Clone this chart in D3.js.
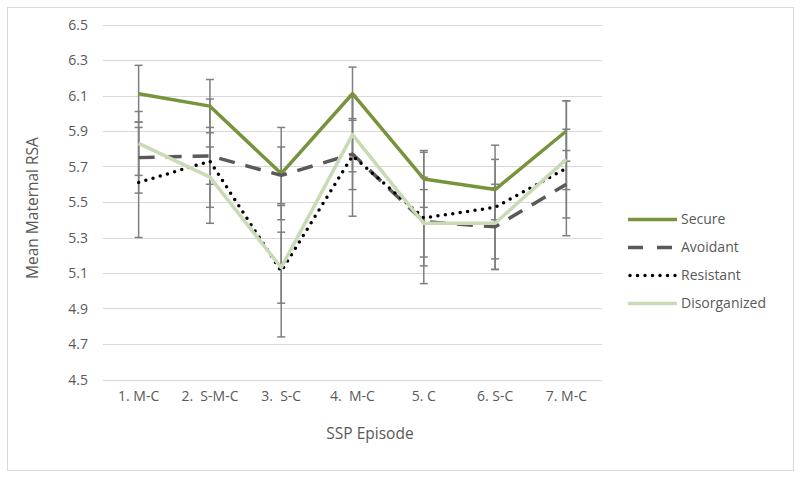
<!DOCTYPE html>
<html>
<head>
<meta charset="utf-8">
<script src="https://cdn.jsdelivr.net/npm/d3@7/dist/d3.min.js"></script>
<style>
  html, body { margin: 0; padding: 0; background: #fff; }
  text { font-family: "Open Sans", "Noto Sans", sans-serif; fill: #595959; white-space: pre; }
</style>
</head>
<body>
<svg id="chart" width="800" height="478"></svg>
<script>
const categories = ["1. M-C", "2.  S-M-C", "3.  S-C", "4.  M-C", "5. C", "6. S-C", "7. M-C"];
const yTicks = [4.5, 4.7, 4.9, 5.1, 5.3, 5.5, 5.7, 5.9, 6.1, 6.3, 6.5];
const seriesNames = ["Secure", "Avoidant", "Resistant", "Disorganized"];

const secure          = [6.11, 6.04, 5.66, 6.11, 5.63, 5.57, 5.90];
const secureErr       = [0.16, 0.15, 0.26, 0.15, 0.16, 0.17, 0.17];
const avoidant        = [5.75, 5.76, 5.65, 5.77, 5.39, 5.36, 5.60];
const avoidantErr     = [0.20, 0.16, 0.16, 0.20, 0.25, 0.24, 0.19];
const resistant       = [5.61, 5.73, 5.11, 5.76, 5.41, 5.47, 5.69];
const resistantErr    = [0.31, 0.35, 0.37, 0.34, 0.37, 0.35, 0.38];
const disorganized    = [5.83, 5.64, 5.13, 5.88, 5.38, 5.38, 5.74];
const disorganizedErr = [0.18, 0.17, 0.20, 0.21, 0.19, 0.20, 0.17];

const styles = [
  { color: "#77933c", dash: null, width: 3.5, cap: "butt" },
  { color: "#595959", dash: "16,11", width: 3.5, cap: "butt" },
  { color: "#000000", dash: "0,7.5", width: 3.5, cap: "round" },
  { color: "#c9dab6", dash: null, width: 3.5, cap: "butt" }
];
const values = [secure, avoidant, resistant, disorganized];
const errs = [secureErr, avoidantErr, resistantErr, disorganizedErr];

const svg = d3.select("#chart");

// outer border
svg.append("rect").attr("x", 7.5).attr("y", 7.5).attr("width", 786).attr("height", 463)
  .attr("fill", "#fff").attr("stroke", "#d9d9d9").attr("stroke-width", 1);

const x = d3.scaleBand().domain(categories).range([103, 602]);
const cx = c => x(c) + x.bandwidth() / 2;
const y = d3.scaleLinear().domain([4.5, 6.5]).range([379.5, 24.5]);

// gridlines
svg.append("g").selectAll("line").data(yTicks).join("line")
  .attr("x1", 103).attr("x2", 602)
  .attr("y1", d => Math.round(y(d)) + 0.5).attr("y2", d => Math.round(y(d)) + 0.5)
  .attr("stroke", "#d9d9d9").attr("stroke-width", 1);

// y axis labels
const yAxis = d3.axisLeft(y).tickValues(yTicks).tickFormat(d3.format(".1f")).tickSize(0).tickPadding(0);
const gy = svg.append("g").attr("transform", "translate(88,0)").call(yAxis);
gy.select(".domain").remove();
gy.selectAll("text").style("font-size", "14px").attr("fill", "#595959").attr("dy", "0.35em");

// x axis labels
const xAxis = d3.axisBottom(x).tickSize(0).tickPadding(0);
const gx = svg.append("g").attr("transform", "translate(0,391)").call(xAxis);
gx.select(".domain").remove();
gx.selectAll("text").style("font-size", "14px").attr("fill", "#595959").attr("dy", "0.71em");

// axis titles
svg.append("text").attr("x", 370).attr("y", 439).attr("text-anchor", "middle")
  .style("font-size", "15.5px").text("SSP Episode");
svg.append("text").attr("transform", "translate(38,208) rotate(-90)").attr("text-anchor", "middle")
  .style("font-size", "15.5px").text("Mean Maternal RSA");

// error bars
values.forEach((vals, si) => {
  const g = svg.append("g");
  const data = categories.map((c, i) => ({ c, v: vals[i], e: errs[si][i] }));
  g.selectAll("line.v").data(data).join("line").attr("class", "v")
    .attr("x1", d => cx(d.c)).attr("x2", d => cx(d.c))
    .attr("y1", d => y(d.v + d.e)).attr("y2", d => y(d.v - d.e))
    .attr("stroke", "#7f7f7f").attr("stroke-width", 1.5);
  ["hi", "lo"].forEach(k => {
    g.selectAll("line." + k).data(data).join("line").attr("class", k)
      .attr("x1", d => cx(d.c) - 4).attr("x2", d => cx(d.c) + 4)
      .attr("y1", d => y(k === "hi" ? d.v + d.e : d.v - d.e))
      .attr("y2", d => y(k === "hi" ? d.v + d.e : d.v - d.e))
      .attr("stroke", "#7f7f7f").attr("stroke-width", 1.5);
  });
});

// lines
const line = d3.line().x(d => cx(d.c)).y(d => y(d.v));
values.forEach((vals, si) => {
  const s = styles[si];
  const data = categories.map((c, i) => ({ c, v: vals[i] }));
  svg.append("path").datum(data).attr("d", line)
    .attr("fill", "none").attr("stroke", s.color).attr("stroke-width", s.width)
    .attr("stroke-linecap", s.cap).attr("stroke-linejoin", "round")
    .attr("stroke-dasharray", s.dash);
});

// legend
const lg = svg.append("g");
const legY = [219.5, 247.5, 275.5, 303.5];
seriesNames.forEach((name, i) => {
  const s = styles[i];
  lg.append("line").attr("x1", i === 2 ? 630 : 628).attr("x2", 677).attr("y1", legY[i]).attr("y2", legY[i])
    .attr("stroke", s.color).attr("stroke-width", s.width)
    .attr("stroke-linecap", s.cap)
    .attr("stroke-dasharray", i === 1 ? "15,14" : s.dash);
  lg.append("text").attr("x", 681).attr("y", legY[i]).attr("dy", "0.35em")
    .style("font-size", "14px").text(name);
});
</script>
</body>
</html>
